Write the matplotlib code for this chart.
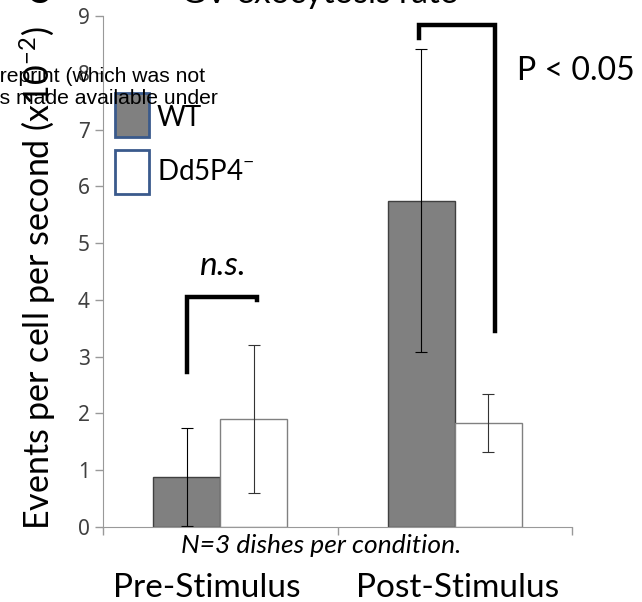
import numpy as np
import matplotlib
matplotlib.use("Agg")
import matplotlib.pyplot as plt

# values (events per cell per second, x10^-2)
conditions = ["Pre-Stimulus", "Post-Stimulus"]
label_pos = [0.443, 1.514]
wt_mean = [0.88, 5.75]
wt_err = [0.86, 2.66]
dd_mean = [1.90, 1.83]
dd_err = [1.30, 0.51]
y_ticks = list(range(0, 10))

plt.rcParams['font.family'] = ['Lato', 'DejaVu Sans']

fig = plt.figure(figsize=(6.42, 6.02), dpi=100)
ax = fig.add_axes([103/642, 1 - 527/602, 469/642, 511/602])

x = np.arange(len(conditions)) + 0.5
w = 0.285
ax.bar(x - w/2, wt_mean, w, color="#808080", edgecolor="#404040", linewidth=1.0)
ax.bar(x + w/2, dd_mean, w, color="white", edgecolor="#808080", linewidth=1.0)
ax.errorbar(x - w/2, wt_mean, yerr=wt_err, fmt="none", ecolor="black",
            elinewidth=0.8, capsize=4, capthick=0.8)
ax.errorbar(x + w/2, dd_mean, yerr=dd_err, fmt="none", ecolor="#333333",
            elinewidth=0.8, capsize=4, capthick=0.8)

ax.set_xlim(0, 2)
ax.set_ylim(0, 9)
ax.set_yticks(y_ticks)
ax.set_yticklabels([str(t) for t in y_ticks], family=['Noto Sans', 'DejaVu Sans'],
                   stretch="condensed", fontsize=15, color="#404040")
ax.set_xticks([0, 1, 2])
ax.set_xticklabels([])
ax.tick_params(axis="both", color="#999999", length=6, width=1)
for s in ["top", "right"]:
    ax.spines[s].set_visible(False)
for s in ["left", "bottom"]:
    ax.spines[s].set_color("#999999")

fig.text(38/642, 1 - 278/602, "Events per cell per second (x10$^{\\mathregular{-2}}$)",
         rotation=90, ha="center", va="center", fontsize=24.5)

# category labels and footnote
for xi, name in zip(label_pos, conditions):
    ax.text(xi, -1.233, name, ha="center", va="baseline", fontsize=24, clip_on=False)
ax.text(0.93, -0.46, "N=3 dishes per condition.", ha="center", va="baseline",
        fontsize=19, style="italic", clip_on=False)

# significance brackets
ax.plot([0.358, 0.358, 0.657, 0.657], [2.73, 4.05, 4.05, 4.0], color="black", lw=3.2,
        solid_joinstyle="miter", clip_on=False)
ax.text(0.507, 4.6, "n.s.", ha="center", va="center", fontsize=24, style="italic")
ax.plot([1.348, 1.348, 1.672, 1.672], [8.62, 8.85, 8.85, 3.45], color="black", lw=3.2,
        solid_joinstyle="miter", clip_on=False)
fig.text(517/642, 1 - 71/602, "P < 0.05", ha="left", va="center", fontsize=23)

# legend boxes
fig.patches.append(plt.Rectangle((115/642, 1 - 137/602), 34/642, 44/602, transform=fig.transFigure,
                                 facecolor="#808080", edgecolor="#3a5a8c", lw=2))
fig.patches.append(plt.Rectangle((115/642, 1 - 194/602), 34/642, 44/602, transform=fig.transFigure,
                                 facecolor="white", edgecolor="#3a5a8c", lw=2))
fig.text(157/642, 1 - 118/602, "WT", ha="left", va="center", fontsize=20)
fig.text(157/642, 1 - 172/602, "Dd5P4$^{\\mathregular{-}}$", ha="left", va="center", fontsize=20)

# cut-off header and watermark
fig.text(27/642, 1 - 3/602, "C", ha="left", va="baseline", fontsize=24, weight="bold")
fig.text(319/642, 1 - 3/602, "GV exocytosis rate", ha="center", va="baseline", fontsize=24)
fig.text(205/642, 1 - 77/602, "preprint (which was not", ha="right", va="center",
         fontsize=15.2, family="Liberation Sans")
fig.text(218/642, 1 - 98/602, "is made available under", ha="right", va="center",
         fontsize=15.2, family="Liberation Sans")

fig.savefig("out.png", dpi=100)
